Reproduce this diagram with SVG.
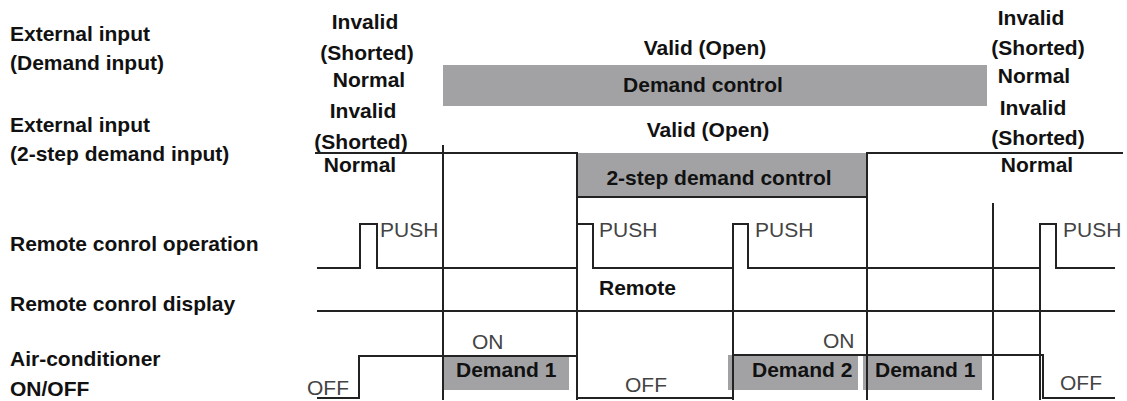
<svg xmlns="http://www.w3.org/2000/svg" width="1127" height="401" viewBox="0 0 1127 401">
<style>
  text { font-family: "Liberation Sans", Arial, sans-serif; font-size: 21px; }
  .b { font-weight: bold; fill: #111; }
  .c { text-anchor: middle; }
  .r { font-weight: normal; fill: #444; }
  .g { fill: #a2a2a5; }
  .w { fill: none; stroke: #222; stroke-width: 2; }
  .v { fill: none; stroke: #222; stroke-width: 2; }
</style>
<rect width="1127" height="401" fill="#fff"/>

<g id="row-labels">
  <text class="b" x="10" y="41">External input</text>
  <text class="b" x="10" y="70">(Demand input)</text>
  <text class="b" x="10" y="132">External input</text>
  <text class="b" x="10" y="161">(2-step demand input)</text>
  <text class="b" x="10" y="251">Remote conrol operation</text>
  <text class="b" x="10" y="311">Remote conrol display</text>
  <text class="b" x="10" y="366">Air-conditioner</text>
  <text class="b" x="10" y="396">ON/OFF</text>
</g>

<g id="demand-input">
  <rect class="g" x="443" y="65" width="544" height="41"/>
  <text class="b c" x="705" y="55">Valid (Open)</text>
  <text class="b c" x="703" y="92">Demand control</text>
  <text class="b c" x="365" y="29">Invalid</text>
  <text class="b c" x="367" y="60">(Shorted)</text>
  <text class="b c" x="369" y="87">Normal</text>
  <text class="b c" x="1031" y="25">Invalid</text>
  <text class="b c" x="1038" y="55">(Shorted)</text>
  <text class="b c" x="1034" y="83">Normal</text>
</g>

<g id="two-step-input">
  <rect class="g" x="577" y="153" width="290" height="44"/>
  <text class="b c" x="708" y="137">Valid (Open)</text>
  <text class="b c" x="719" y="185">2-step demand control</text>
  <text class="b c" x="363" y="118">Invalid</text>
  <text class="b c" x="361" y="149">(Shorted)</text>
  <text class="b c" x="360" y="172">Normal</text>
  <text class="b c" x="1033" y="115">Invalid</text>
  <text class="b c" x="1038" y="145">(Shorted)</text>
  <text class="b c" x="1037" y="172">Normal</text>
</g>

<g id="remote-operation">
  <text class="r" x="380" y="237">PUSH</text>
  <text class="r" x="599" y="237">PUSH</text>
  <text class="r" x="755" y="237">PUSH</text>
  <text class="r" x="1063" y="237">PUSH</text>
</g>

<g id="remote-display">
  <rect x="578" y="272" width="149" height="37" fill="#fff"/>
  <text class="b" x="599" y="295">Remote</text>
</g>

<g id="air-conditioner">
  <rect class="g" x="442" y="357" width="127" height="33"/>
  <rect class="g" x="728" y="355" width="130" height="35"/>
  <rect class="g" x="863" y="355" width="119" height="35"/>
  <text class="b" x="456" y="377">Demand 1</text>
  <text class="b" x="752" y="377">Demand 2</text>
  <text class="b" x="875" y="377">Demand 1</text>
  <text class="r" x="472" y="349">ON</text>
  <text class="r" x="823" y="348">ON</text>
  <text class="r" x="307" y="395">OFF</text>
  <text class="r" x="625" y="392">OFF</text>
  <text class="r" x="1060" y="390">OFF</text>
</g>

<g id="connectors">
  <path class="w" d="M315,153 H577 V197 H867 V153 H1123"/>
  <path class="w" d="M317,268 H360 V224 H377 V268 H577 V224 H593 V268 H733 V224 H748 V268 H1040 V224 H1056 V268 H1115"/>
  <path class="w" d="M317,311 H1115" stroke-width="1.5"/>
  <path class="w" d="M317,398 H359 V356 H577 V398 H733 V355 H1043 V398 H1115"/>
  <path class="v" d="M443,145 V400 M577,153 V400 M733,224 V400 M867,153 V400 M993,203 V400 M1040,224 V400"/>
</g>
</svg>
